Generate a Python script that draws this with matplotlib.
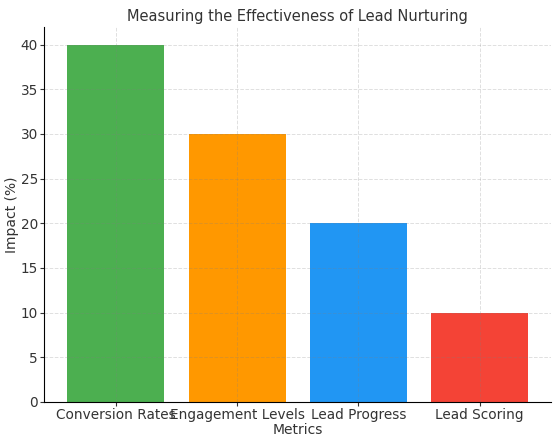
import matplotlib
matplotlib.use('Agg')
import matplotlib.pyplot as plt

# Chart data
metrics = ['Conversion Rates', 'Engagement Levels', 'Lead Progress', 'Lead Scoring']
impact = [40, 30, 20, 10]
colors = ['#4CAF50', '#FF9800', '#2196F3', '#F44336']

fig, ax = plt.subplots(figsize=(5.59, 4.46), dpi=100)
ax.bar(metrics, impact, color=colors, width=0.8)

ax.set_title('Measuring the Effectiveness of Lead Nurturing', fontsize=10.5, color='#333333', pad=4)
ax.set_xlabel('Metrics', color='#333333', labelpad=1)
ax.set_ylabel('Impact (%)', color='#333333', labelpad=1)
ax.tick_params(colors='#333333', pad=1.5, length=3, labelsize=9.8)

# faint dashed grid drawn over the bars
ax.grid(True, linestyle='--', color='gray', alpha=0.25, linewidth=0.7)
ax.spines['top'].set_visible(False)
ax.spines['right'].set_visible(False)

fig.subplots_adjust(left=0.079, right=0.986, top=0.94, bottom=0.099)
plt.savefig('out.png', dpi=100)
